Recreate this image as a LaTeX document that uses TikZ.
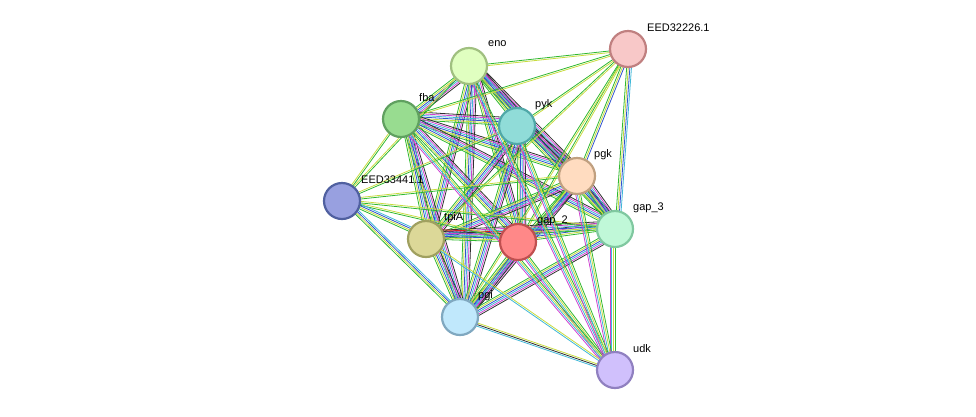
\documentclass[tikz,border=0pt]{standalone}
\usepackage{fontspec}
\setmainfont{Liberation Sans}
\usetikzlibrary{calc}
\definecolor{eg}{HTML}{30B830}
\definecolor{ey}{HTML}{C8DC40}
\definecolor{eb}{HTML}{3050D0}
\definecolor{ec}{HTML}{40B8D8}
\definecolor{em}{HTML}{D040D0}
\definecolor{ek}{HTML}{303030}
\definecolor{er}{HTML}{E02020}
\definecolor{f1}{HTML}{E0FFC0}\definecolor{d1}{HTML}{A0C080}
\definecolor{f2}{HTML}{F8C8C8}\definecolor{d2}{HTML}{C08080}
\definecolor{f3}{HTML}{98DC90}\definecolor{d3}{HTML}{60A060}
\definecolor{f4}{HTML}{90DCD8}\definecolor{d4}{HTML}{50A8A8}
\definecolor{f5}{HTML}{FFDCC0}\definecolor{d5}{HTML}{C0A080}
\definecolor{f6}{HTML}{98A0E0}\definecolor{d6}{HTML}{5060A0}
\definecolor{f7}{HTML}{DCD898}\definecolor{d7}{HTML}{A0A060}
\definecolor{f8}{HTML}{FF8888}\definecolor{d8}{HTML}{C05050}
\definecolor{f9}{HTML}{C0F8D8}\definecolor{d9}{HTML}{80C8A0}
\definecolor{f10}{HTML}{C0E8FC}\definecolor{d10}{HTML}{80A8C0}
\definecolor{f11}{HTML}{D0C0FC}\definecolor{d11}{HTML}{9080C0}
\newcommand\sedge[3]{%
  \foreach \c [count=\i] in {#3}{%
    \pgfmathsetmacro\o{(\i-1)*1.6}%
    \draw[draw=\c,line width=0.8pt] ($(#1)!\o pt!90:(#2)$) -- ($(#2)!\o pt!-90:(#1)$);}}
\begin{document}
\begin{tikzpicture}[x=1pt,y=-1pt,
  prot/.style={circle,minimum size=36pt,inner sep=0pt,line width=2.2pt},
  lab/.style={font=\fontsize{11}{12}\selectfont,anchor=west,inner sep=1pt}]
\useasboundingbox (0,0) rectangle (976,416);
\coordinate (eno) at (469,66);
\coordinate (eed2) at (628,49);
\coordinate (fba) at (401,119);
\coordinate (pyk) at (517,126);
\coordinate (pgk) at (577,176);
\coordinate (eed3) at (342,201);
\coordinate (tpiA) at (426,239);
\coordinate (gap2) at (518,242);
\coordinate (gap3) at (615,229);
\coordinate (pgi) at (460,317);
\coordinate (udk) at (615,370);
% core edges
\foreach \a/\b in {eno/fba,eno/pyk,eno/pgk,eno/tpiA,eno/gap2,eno/gap3,eno/pgi,
  fba/pyk,fba/pgk,fba/tpiA,fba/gap2,fba/gap3,fba/pgi,
  pyk/pgk,pyk/tpiA,pyk/gap2,pyk/gap3,pyk/pgi,
  pgk/tpiA,pgk/gap2,pgk/gap3,pgk/pgi,
  gap2/gap3,gap2/pgi,gap3/pgi,tpiA/pgi,tpiA/gap3}
  {\sedge{\a}{\b}{eg,ey,eb,ec,em,ek}}
\sedge{tpiA}{gap2}{eg,ey,eb,ec,em,ek,er}
% EED32226.1
\foreach \b in {eno,fba,pyk,tpiA,gap2,pgi} {\sedge{eed2}{\b}{eg,ey}}
\sedge{eed2}{pgk}{eg,ey,eb}
\sedge{eed2}{gap3}{eg,ey,eb,ec}
% EED33441.1
\foreach \b in {fba,eno,pyk,pgk,gap2,gap3} {\sedge{eed3}{\b}{eg,ey}}
\sedge{eed3}{tpiA}{eg,ey,eb,ec}
\sedge{eed3}{pgi}{eg,ey,eb,ec}
% udk
\foreach \b in {gap2,gap3,pgk,fba,eno,pyk} {\sedge{udk}{\b}{eg,ey,ec,em}}
\sedge{udk}{pgi}{ey,ek,ec}
\sedge{udk}{tpiA}{ey,ec}
% nodes
\node[prot,fill=f1,draw=d1] (n1) at (eno) {};
\node[prot,fill=f2,draw=d2] (n2) at (eed2) {};
\node[prot,fill=f3,draw=d3] (n3) at (fba) {};
\node[prot,fill=f4,draw=d4] (n4) at (pyk) {};
\node[prot,fill=f5,draw=d5] (n5) at (pgk) {};
\node[prot,fill=f6,draw=d6] (n6) at (eed3) {};
\node[prot,fill=f7,draw=d7] (n7) at (tpiA) {};
\node[prot,fill=f8,draw=d8] (n8) at (gap2) {};
\node[prot,fill=f9,draw=d9] (n9) at (gap3) {};
\node[prot,fill=f10,draw=d10] (n10) at (pgi) {};
\node[prot,fill=f11,draw=d11] (n11) at (udk) {};
% labels
\node[lab] (l1) at (487,44) {eno};
\node[lab] (l2) at (646,28) {EED32226.1};
\node[lab] (l3) at (418,98) {fba};
\node[lab] (l4) at (534,105) {pyk};
\node[lab] (l5) at (593,155) {pgk};
\node[lab] (l6) at (360,180) {EED33441.1};
\node[lab] (l7) at (443,218) {tpiA};
\node[lab] (l8) at (536,221) {gap\_2};
\node[lab] (l9) at (632,208) {gap\_3};
\node[lab] (l10) at (477,296) {pgi};
\node[lab] (l11) at (632,349) {udk};
\end{tikzpicture}
\end{document}
